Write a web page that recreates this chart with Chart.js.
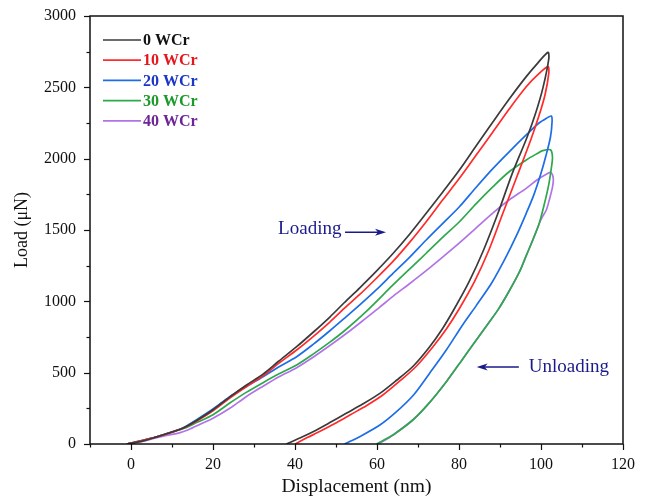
<!DOCTYPE html>
<html>
<head>
<meta charset="utf-8">
<script src="https://cdn.jsdelivr.net/npm/chart.js@4.4.1/dist/chart.umd.min.js"></script>
<style>
  body { margin: 0; background: #fff; }
</style>
</head>
<body>
<canvas id="grafico" width="647" height="502"></canvas>
<script>
// series names
var series = ["0 WCr", "10 WCr", "20 WCr", "30 WCr", "40 WCr"];

// loading + unloading loops, displacement (nm) / load (uN)
var disp0 = [-1, 3, 6.3, 9, 11.5, 13, 16, 20, 24.1, 28, 32.2, 36, 40.4, 44.5, 48.5, 52, 55.8, 59.8, 63.9, 68, 72, 76, 80.1, 84.2, 88.3, 92.3, 96.4, 99.2, 101.7,
             101.9, 100.5, 98.7, 96.6, 93, 89.5, 86, 82.5, 78.9, 76, 72.8, 68.8, 64.7, 60.7, 56.5, 52.5, 48.5, 44.4, 41, 37.9];
var load0 = [0, 22, 50, 75, 98, 115, 165, 240, 330, 410, 490, 580, 682, 785, 890, 990, 1095, 1210, 1335, 1472, 1617, 1765, 1920, 2090, 2259, 2420, 2575, 2670, 2745,
             2700, 2500, 2320, 2150, 1897, 1617, 1360, 1140, 950, 810, 680, 545, 445, 355, 280, 215, 150, 86, 40, 0];

var disp10 = [-1, 6.3, 11.5, 13, 16, 20, 24.1, 28, 32.2, 36, 40.4, 44.5, 48.5, 52, 55.8, 59.8, 63.9, 68, 72, 76, 80.1, 84.2, 88.3, 92.3, 96.4, 99.3, 101.7,
              101.9, 101, 99.5, 97.6, 94.2, 90.7, 87.3, 83.8, 80.1, 77, 73.6, 69.6, 65.5, 61.5, 57.5, 53.5, 49.5, 45.5, 43, 40];
var load10 = [0, 50, 98, 115, 160, 232, 322, 400, 478, 565, 659, 755, 855, 950, 1048, 1160, 1280, 1415, 1558, 1710, 1862, 2025, 2189, 2350, 2504, 2590, 2645,
              2600, 2450, 2300, 2140, 1880, 1617, 1360, 1140, 950, 810, 680, 545, 440, 345, 270, 205, 140, 80, 45, 0];

var disp20 = [-1, 6.3, 11.5, 13, 16, 20, 24.1, 28, 32.2, 36, 40.4, 44.5, 48.5, 52, 55.8, 59.8, 63.9, 68, 72, 76, 80.1, 84.2, 88.3, 92.3, 96.4, 99.5, 101.3, 102.5,
              102.7, 102.3, 101.2, 100, 98.3, 96.4, 94, 91.5, 88, 84.2, 81, 76.9, 72.8, 68.8, 64.7, 60.7, 56, 52.1];
var load20 = [0, 51, 100, 118, 170, 245, 332, 400, 472, 540, 612, 700, 794, 880, 975, 1080, 1196, 1310, 1430, 1545, 1663, 1800, 1932, 2050, 2166, 2250, 2283, 2299,
              2260, 2150, 2020, 1897, 1750, 1617, 1460, 1313, 1130, 970, 840, 659, 495, 340, 225, 133, 55, 0];

var disp30 = [-1, 6.3, 11.5, 13, 16, 20, 24.1, 28, 32.2, 36, 40.4, 44.5, 48.5, 52, 57.4, 63.9, 68, 72, 76, 80.1, 84.2, 88.3, 92.3, 96.4, 99, 100.4, 102.3,
              102.8, 102.5, 101.9, 100.8, 99.5, 98, 96.4, 94.8, 92, 89.5, 87, 84, 81, 77, 72.8, 68.8, 64, 61.5, 59.8];
var load30 = [0, 51, 96, 110, 150, 205, 287, 360, 430, 490, 554, 632, 714, 792, 930, 1115, 1228, 1337, 1448, 1558, 1685, 1804, 1910, 1991, 2035, 2056, 2062,
              2010, 1930, 1820, 1680, 1540, 1430, 1320, 1210, 1060, 940, 840, 720, 600, 440, 290, 170, 65, 25, 0];

var disp40 = [-1, 3, 6.3, 9, 11.8, 14, 17, 20, 24.1, 28, 32.2, 36, 40.4, 44.5, 48.5, 53, 57, 60.7, 63.9, 68, 72, 76, 80.1, 84.2, 88.3, 92.3, 96.4, 99, 101.3, 102.4,
              103, 102.8, 102.2, 101.3, 100.3, 99.5, 98, 96.4, 94.8, 92, 89.5, 87, 84, 81, 77, 72.8, 68.8, 64, 61.8, 60.2];
var load40 = [0, 20, 45, 62, 78, 100, 140, 180, 250, 330, 405, 470, 535, 610, 690, 785, 875, 960, 1035, 1125, 1215, 1310, 1410, 1515, 1620, 1712, 1792, 1850, 1890, 1903,
              1860, 1800, 1730, 1640, 1590, 1540, 1430, 1320, 1210, 1060, 940, 840, 720, 600, 440, 290, 170, 65, 25, 0];

// axis ticks
var xTickLabels = [0, 20, 40, 60, 80, 100, 120];
var yTickLabels = [0, 500, 1000, 1500, 2000, 2500, 3000];

var lineColors = ["#3a3a3a", "#ff2b2b", "#1d6ee6", "#2ea84c", "#b174e6"];
var textColors = ["#111111", "#e8141c", "#1c35c8", "#1a9a2a", "#6e2497"];
var serif = "'Liberation Serif', 'Times New Roman', serif";

function pares(xs, ys) {
  var out = [];
  for (var i = 0; i < xs.length; i++) out.push({ x: xs[i], y: ys[i] });
  return out;
}

var allDisp = [disp0, disp10, disp20, disp30, disp40];
var allLoad = [load0, load10, load20, load30, load40];

var datasets = series.map(function (name, i) {
  return {
    label: name,
    data: pares(allDisp[i], allLoad[i]),
    showLine: true,
    borderColor: lineColors[i],
    backgroundColor: lineColors[i],
    borderWidth: 1.7,
    pointRadius: 0,
    tension: 0.3,
    fill: false
  };
});

// frame, minor ticks, legend and arrows
var extras = {
  id: "extras",
  afterDraw: function (chart) {
    var ctx = chart.ctx;
    var a = chart.chartArea;
    var xs = chart.scales.x, ys = chart.scales.y;
    ctx.save();
    ctx.strokeStyle = "#111";
    ctx.lineWidth = 1.5;
    ctx.strokeRect(a.left, a.top, a.right - a.left, a.bottom - a.top);

    ctx.lineWidth = 1.2;
    for (var v = -10; v <= 120; v += 10) {
      var px = Math.round(xs.getPixelForValue(v)) + 0.5;
      var len = v % 20 === 0 ? 6 : 3.5;
      ctx.beginPath();
      ctx.moveTo(px, a.bottom);
      ctx.lineTo(px, a.bottom + len);
      ctx.stroke();
    }
    for (var w = 0; w <= 3000; w += 250) {
      var py = Math.round(ys.getPixelForValue(w)) + 0.5;
      var l2 = w % 500 === 0 ? 6 : 3.5;
      ctx.beginPath();
      ctx.moveTo(a.left, py);
      ctx.lineTo(a.left - l2, py);
      ctx.stroke();
    }

    // legend
    ctx.font = "bold 16px " + serif;
    ctx.textBaseline = "middle";
    ctx.textAlign = "left";
    series.forEach(function (name, i) {
      var y = a.top + 24 + i * 20.2;
      ctx.strokeStyle = lineColors[i];
      ctx.lineWidth = 1.7;
      ctx.beginPath();
      ctx.moveTo(a.left + 13, y);
      ctx.lineTo(a.left + 51, y);
      ctx.stroke();
      ctx.fillStyle = textColors[i];
      ctx.fillText(name, a.left + 53, y + 1);
    });

    // Loading / Unloading notes
    var navy = "#1a1a8c";
    ctx.fillStyle = navy;
    ctx.strokeStyle = navy;
    ctx.font = "19px " + serif;
    ctx.textAlign = "center";
    ctx.fillText("Loading", xs.getPixelForValue(43.6), ys.getPixelForValue(1505));
    flecha(ctx, xs.getPixelForValue(52.2), xs.getPixelForValue(62.2), ys.getPixelForValue(1485));
    ctx.fillText("Unloading", xs.getPixelForValue(106.8), ys.getPixelForValue(540));
    flecha(ctx, xs.getPixelForValue(94.6), xs.getPixelForValue(84.3), ys.getPixelForValue(540));
    ctx.restore();
  }
};

function flecha(ctx, x1, x2, y) {
  var dir = x2 > x1 ? 1 : -1;
  ctx.lineWidth = 1.5;
  ctx.beginPath();
  ctx.moveTo(x1, y);
  ctx.lineTo(x2 - dir * 6, y);
  ctx.stroke();
  ctx.beginPath();
  ctx.moveTo(x2, y);
  ctx.lineTo(x2 - dir * 11, y - 3.5);
  ctx.lineTo(x2 - dir * 8, y);
  ctx.lineTo(x2 - dir * 11, y + 3.5);
  ctx.closePath();
  ctx.fill();
}

var ctx = document.getElementById("grafico").getContext("2d");
var chart = new Chart(ctx, {
  type: "scatter",
  data: { datasets: datasets },
  plugins: [extras],
  options: {
    responsive: false,
    animation: false,
    layout: { padding: { top: 16, right: 24, left: 0, bottom: 0 } },
    plugins: {
      legend: { display: false },
      tooltip: { enabled: false }
    },
    scales: {
      x: {
        type: "linear",
        min: -10,
        max: 120,
        afterBuildTicks: function (scale) {
          scale.ticks = xTickLabels.map(function (v) { return { value: v }; });
        },
        afterFit: function (scale) {
          scale.height = 58;
          scale.paddingLeft = 0;
          scale.paddingRight = 0;
        },
        grid: { display: false, drawTicks: false },
        border: { display: false },
        ticks: {
          padding: 11,
          color: "#111",
          font: { family: serif, size: 16 },
          maxRotation: 0,
          callback: function (v) { return String(v); }
        },
        title: {
          display: true,
          text: "Displacement (nm)",
          color: "#111",
          font: { family: serif, size: 19.5 },
          padding: { top: 4, bottom: 3 }
        }
      },
      y: {
        type: "linear",
        min: 0,
        max: 3000,
        afterBuildTicks: function (scale) {
          scale.ticks = yTickLabels.map(function (v) { return { value: v }; });
        },
        afterFit: function (scale) {
          scale.width = 90;
          scale.paddingTop = 0;
          scale.paddingBottom = 0;
        },
        grid: { display: false, drawTicks: false },
        border: { display: false },
        ticks: {
          padding: 14,
          color: "#111",
          font: { family: serif, size: 16 },
          callback: function (v) { return String(v); }
        },
        title: {
          display: true,
          text: "Load (μN)",
          color: "#111",
          font: { family: serif, size: 18 },
          padding: { top: 11, bottom: 4 }
        }
      }
    }
  }
});
</script>
</body>
</html>
